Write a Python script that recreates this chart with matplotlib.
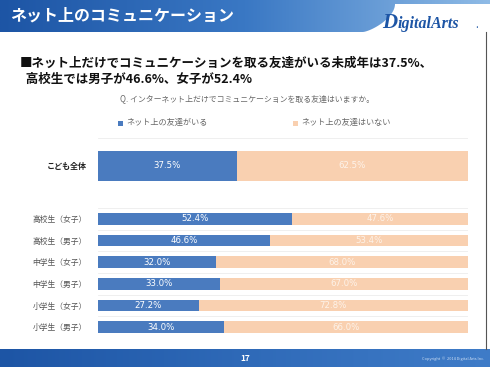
import numpy as np
import matplotlib.pyplot as plt
from matplotlib.patches import Rectangle, Polygon
from matplotlib.colors import LinearSegmentedColormap

plt.rcParams['font.family'] = ['Noto Sans CJK JP', 'DejaVu Sans']

# データ
title = "ネット上のコミュニケーション"
headline = ["■ネット上だけでコミュニケーションを取る友達がいる未成年は37.5%、",
            "  高校生では男子が46.6%、女子が52.4%"]
question = "Q. インターネット上だけでコミュニケーションを取る友達はいますか。"
series_names = ["ネット上の友達がいる", "ネット上の友達はいない"]

total_label = ["こども全体"]
total_yes = [37.5]
total_no = [62.5]

groups = ["高校生（女子）", "高校生（男子）", "中学生（女子）",
          "中学生（男子）", "小学生（女子）", "小学生（男子）"]
yes = [52.4, 46.6, 32.0, 33.0, 27.2, 34.0]
no = [47.6, 53.4, 68.0, 67.0, 72.8, 66.0]

BLUE = "#4a7bbf"
PEACH = "#f9d0b0"
W, H = 490, 367

fig = plt.figure(figsize=(W / 100, H / 100), dpi=100)
fig.patch.set_facecolor("white")

# 背景 (ピクセル座標)
bg = fig.add_axes([0, 0, 1, 1])
bg.set_xlim(0, W)
bg.set_ylim(H, 0)
bg.axis("off")

grad = np.linspace(0, 1, 256)[None, :]
hdr_cmap = LinearSegmentedColormap.from_list("hdr", ["#1d55a5", "#3a78c4", "#8fbbe6"])
bg.imshow(grad, extent=(0, W, 32, 0), cmap=hdr_cmap, aspect="auto", zorder=0)
# 右上の白いスウッシュ
t = np.linspace(0, 1, 40)
cx = 363 + 32 * np.sin(t * np.pi / 2)
cy = 32 - 28 * (1 - np.cos(t * np.pi / 2)) ** 0.7
swoosh = np.vstack([np.column_stack([cx, cy]), [[W, 4], [W, 32]]])
bg.add_patch(Polygon(swoosh, closed=True, facecolor="white", edgecolor="none", zorder=1))
bg.text(10, 16, title, color="white", fontsize=11.5, fontweight="bold", va="center", zorder=2)
bg.text(382, 28, "D", color="#1d55a5", fontsize=15, fontstyle="italic", fontweight="bold",
        family="Liberation Serif", zorder=2)
bg.text(398, 28, "igitalArts", color="#1d55a5", fontsize=11.5, fontstyle="italic",
        fontweight="bold", family="Liberation Serif", zorder=2)
bg.text(475, 28, ".", color="#1d55a5", fontsize=7, zorder=2)

# 右の枠線
bg.plot([486, 486], [32, 349], color="#555555", lw=0.8, zorder=2)

# 見出し
bg.text(20, 63, headline[0], fontsize=9, fontweight="bold", va="center", color="#111111")
bg.text(20, 79, headline[1], fontsize=9, fontweight="bold", va="center", color="#111111")

# 設問
bg.text(120, 99, question, fontsize=5.7, va="center", color="#666666")

# 凡例
bg.add_patch(Rectangle((118, 121), 4.5, 4.5, facecolor=BLUE, edgecolor="none"))
bg.text(126, 122.5, series_names[0], fontsize=5.9, va="center", color="#666666")
bg.add_patch(Rectangle((293, 121), 4.5, 4.5, facecolor=PEACH, edgecolor="none"))
bg.text(301, 122.5, series_names[1], fontsize=5.9, va="center", color="#666666")

# フッター
bg.imshow(grad, extent=(0, W, H, 349), cmap=LinearSegmentedColormap.from_list(
    "ftr", ["#1d55a5", "#2f6ab8", "#3f7cc8"]), aspect="auto", zorder=0)
bg.text(245, 358.5, "17", color="white", fontsize=6, fontweight="bold", ha="center", va="center")
bg.text(484, 358.5, "Copyright  ©  2014 Digital Arts Inc.", color="#cfe0f5", fontsize=2.8,
        ha="right", va="center")


def bar_axes(top_px, bottom_px, labels, v1, v2, bold=False):
    ax = fig.add_axes([98 / W, 1 - bottom_px / H, 370 / W, (bottom_px - top_px) / H])
    ax.patch.set_alpha(0)
    n = len(labels)
    y = np.arange(n)
    ax.barh(y, v1, height=0.55, color=BLUE)
    ax.barh(y, v2, left=v1, height=0.55, color=PEACH)
    for b in np.arange(n + 1) - 0.5:
        ax.axhline(b, color="#ececec", lw=0.6, zorder=0)
    for i in range(n):
        ax.text(v1[i] / 2, y[i], f"{v1[i]:.1f}%", color="white", fontsize=6.2,
                ha="center", va="center", family="DejaVu Sans")
        ax.text(v1[i] + v2[i] / 2, y[i], f"{v2[i]:.1f}%", color="#fdf3ea", fontsize=6.2,
                ha="center", va="center", family="DejaVu Sans")
    ax.set_xlim(0, 100)
    ax.set_ylim(n - 0.5, -0.5)
    ax.set_yticks(y)
    if bold:
        ax.set_yticklabels(labels, fontsize=5.8, fontweight="bold", color="#222222")
    else:
        ax.set_yticklabels(labels, fontsize=5.6, color="#555555")
    ax.tick_params(axis="y", length=0, pad=8)
    ax.set_xticks([])
    for s in ax.spines.values():
        s.set_visible(False)
    return ax


bar_axes(138, 194, total_label, total_yes, total_no, bold=True)
bar_axes(208, 338, groups, yes, no)

fig.savefig("out.png", dpi=100)
